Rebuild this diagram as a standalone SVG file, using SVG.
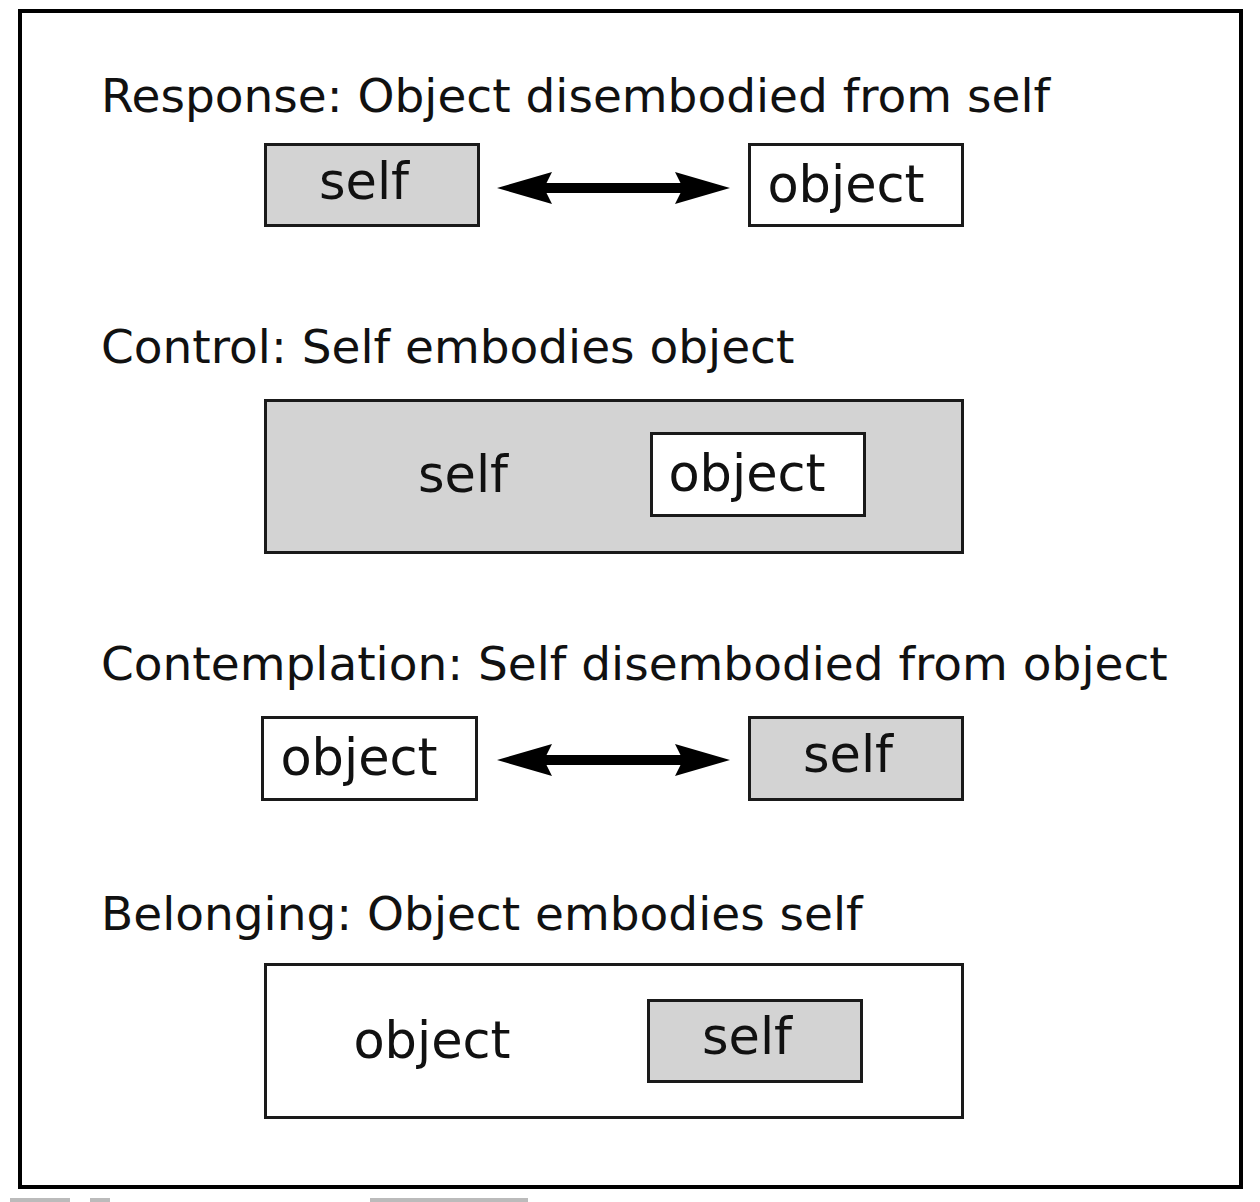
<svg xmlns="http://www.w3.org/2000/svg" width="1260" height="1202" viewBox="0 0 1260 1202">
<style>
.title{font-family:"DejaVu Sans","Verdana",sans-serif;font-size:47px;fill:#111}
.lbl{font-family:"DejaVu Sans","Verdana",sans-serif;font-size:51px;fill:#111}
.gray{fill:#d3d3d3;stroke:#1a1a1a;stroke-width:3}
.white{fill:#fff;stroke:#1a1a1a;stroke-width:3}
.conn{stroke:#000;stroke-width:10;fill:none}
</style>
<defs>
<marker id="ah" viewBox="0 -20 60 40" refX="8" refY="0" markerWidth="60" markerHeight="40" markerUnits="userSpaceOnUse" orient="auto-start-reverse">
<path d="M0,-16 L55,0 L0,16 L8,0 Z" fill="#000"/>
</marker>
</defs>
<rect width="1260" height="1202" fill="#fff"/>
<rect id="frame" x="20" y="11" width="1221" height="1176" fill="#fff" stroke="#000" stroke-width="4"/>
<g id="artifacts" fill="#bbb">
<rect x="10" y="1198" width="60" height="4"/>
<rect x="90" y="1198" width="20" height="4"/>
<rect x="370" y="1198" width="158" height="4"/>
</g>

<g id="titles">
<text class="title" x="101" y="112">Response: Object disembodied from self</text>
<text class="title" x="101" y="363">Control: Self embodies object</text>
<text class="title" x="101" y="680">Contemplation: Self disembodied from object</text>
<text class="title" x="101" y="930">Belonging: Object embodies self</text>
</g>

<g id="response-self">
<rect class="gray" x="265.5" y="144.5" width="213" height="81"/>
<text class="lbl" x="364" y="199" text-anchor="middle">self</text>
</g>
<g id="response-object">
<rect class="white" x="749.5" y="144.5" width="213" height="81"/>
<text class="lbl" x="846" y="202" text-anchor="middle">object</text>
</g>

<g id="control-self">
<rect class="gray" x="265.5" y="400.5" width="697" height="152"/>
<text class="lbl" x="463" y="492" text-anchor="middle">self</text>
</g>
<g id="control-object">
<rect class="white" x="651.5" y="433.5" width="213" height="82"/>
<text class="lbl" x="747" y="491" text-anchor="middle">object</text>
</g>

<g id="contemplation-object">
<rect class="white" x="262.5" y="717.5" width="214" height="82"/>
<text class="lbl" x="359" y="775" text-anchor="middle">object</text>
</g>
<g id="contemplation-self">
<rect class="gray" x="749.5" y="717.5" width="213" height="82"/>
<text class="lbl" x="848" y="772" text-anchor="middle">self</text>
</g>

<g id="belonging-object">
<rect class="white" x="265.5" y="964.5" width="697" height="153"/>
<text class="lbl" x="432" y="1058" text-anchor="middle">object</text>
</g>
<g id="belonging-self">
<rect class="gray" x="648.5" y="1000.5" width="213" height="81"/>
<text class="lbl" x="747" y="1054" text-anchor="middle">self</text>
</g>

<g id="connectors">
<line class="conn" x1="544" y1="188" x2="683" y2="188" marker-start="url(#ah)" marker-end="url(#ah)"/>
<line class="conn" x1="544" y1="760" x2="683" y2="760" marker-start="url(#ah)" marker-end="url(#ah)"/>
</g>
</svg>
